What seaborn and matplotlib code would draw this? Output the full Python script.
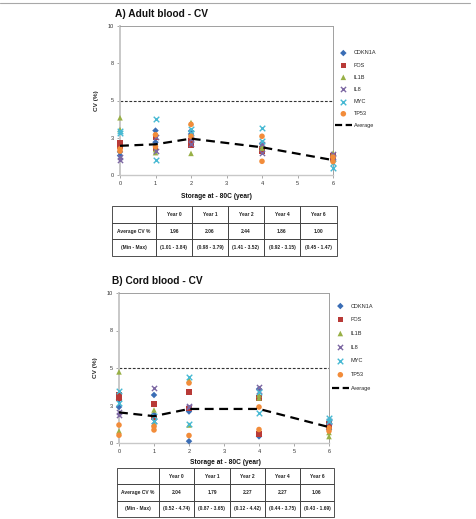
import numpy as np
import pandas as pd
import matplotlib
matplotlib.use("Agg")
import matplotlib.pyplot as plt
from matplotlib.lines import Line2D
import seaborn as sns

sns.set_theme(style="white")
plt.rcParams['font.family'] = ['Liberation Sans', 'DejaVu Sans']

# ---------------- data ----------------
YEARS = [0, 1, 2, 4, 6]
YEARS_REP = [0, 0, 1, 1, 2, 2, 4, 4, 6, 6]
GENES = ["CDKN1A", "FOS", "IL1B", "IL8", "MYC", "TP53"]

# Panel A: adult blood, CV (%) per gene (two samples per year)
A_CDKN1A = [1.55, 1.30, 2.98, 2.20, 2.95, 2.75, 2.10, 1.90, 1.30, 0.95]
A_FOS    = [2.15, 1.95, 2.50, 1.80, 2.00, 2.30, 1.60, 1.75, 1.10, 1.30]
A_IL1B   = [3.84, 3.05, 1.50, 1.70, 3.52, 1.45, 1.80, 2.00, 1.47, 1.35]
A_IL8    = [1.01, 1.20, 2.55, 1.60, 2.10, 2.40, 2.10, 1.50, 1.40, 1.20]
A_MYC    = [2.95, 2.80, 3.79, 0.98, 3.10, 2.80, 3.15, 2.30, 0.45, 0.80]
A_TP53   = [1.75, 1.60, 2.70, 1.90, 3.40, 2.60, 2.60, 0.92, 1.20, 0.90]
A_AVG = [1.96, 2.06, 2.44, 1.86, 1.00]
A_MIN = [1.01, 0.98, 1.41, 0.92, 0.45]
A_MAX = [3.84, 3.79, 3.52, 3.15, 1.47]

# Panel B: cord blood
B_CDKN1A = [2.40, 2.90, 3.20, 1.90, 2.10, 0.12, 3.60, 0.44, 1.20, 0.90]
B_FOS    = [3.20, 3.00, 2.60, 1.70, 3.40, 2.30, 3.00, 0.60, 1.30, 1.10]
B_IL1B   = [4.74, 0.80, 2.20, 1.30, 4.20, 1.20, 3.20, 3.00, 0.43, 0.70]
B_IL8    = [1.90, 2.10, 3.65, 1.50, 2.40, 2.50, 3.75, 3.50, 1.50, 1.40]
B_MYC    = [3.44, 2.70, 1.50, 1.80, 4.42, 1.30, 3.40, 2.00, 1.69, 1.50]
B_TP53   = [1.20, 0.52, 1.10, 0.87, 4.00, 0.50, 2.40, 0.90, 1.00, 0.80]
B_AVG = [2.04, 1.79, 2.27, 2.27, 1.06]
B_MIN = [0.52, 0.87, 0.12, 0.44, 0.43]
B_MAX = [4.74, 3.65, 4.42, 3.75, 1.69]

YTICKS = [0, 2.5, 5, 7.5, 10]
YTICK_LABELS = ["0", "3", "5", "8", "10"]
THRESHOLD = 5

COLORS = {"CDKN1A": "#3a6db5", "FOS": "#b83a37", "IL1B": "#98b046",
          "IL8": "#7d68a3", "MYC": "#47b9d3", "TP53": "#f28c3a"}
MARKERS = {"CDKN1A": "D", "FOS": "s", "IL1B": "^", "IL8": "x", "MYC": "x", "TP53": "o"}
SIZES = {"CDKN1A": 11, "FOS": 14, "IL1B": 16, "IL8": 14, "MYC": 16, "TP53": 16}

W, H = 476, 519
fig = plt.figure(figsize=(W / 100, H / 100), dpi=100)


def fx(px):
    return px / W


def fy(py):
    return 1 - py / H


AVG_DASH = (0, (4, 2.5))


def panel(ax_box, gene_vals, avg, title, title_xy, xlabel_xy, leg_xy, leg_space):
    left, top, right, bottom = ax_box
    ax = fig.add_axes([fx(left), fy(bottom), fx(right - left), (bottom - top) / H])
    for g, vals in zip(GENES, gene_vals):
        df = pd.DataFrame({"year": YEARS_REP, "cv": vals})
        m = MARKERS[g]
        kw = dict(color=COLORS[g], marker=m, s=SIZES[g], label=g, ax=ax, zorder=3,
                  clip_on=False)
        if m == "x":
            kw["linewidth"] = 1.0
        else:
            kw["edgecolor"] = "none"
        sns.scatterplot(data=df, x="year", y="cv", **kw)
    sns.lineplot(x=YEARS, y=avg, color="black", lw=1.6, linestyle=AVG_DASH,
                 label="Average", ax=ax, zorder=4)
    ax.axhline(THRESHOLD, color="#333333", lw=0.8, linestyle=(0, (2.5, 1.5)), zorder=2)
    ax.set_xlim(0, 6)
    ax.set_ylim(0, 10)
    ax.set_xticks(range(0, 7))
    ax.set_yticks(YTICKS)
    ax.set_yticklabels(YTICK_LABELS)
    ax.tick_params(axis="both", labelsize=4, length=2, width=0.6, color="#999999",
                   pad=2.5, labelcolor="#333333", direction="out")
    ax.tick_params(axis="x", bottom=True)
    ax.tick_params(axis="y", left=True)
    for s in ["top", "right"]:
        ax.spines[s].set_color("#a0a0a0")
        ax.spines[s].set_linewidth(0.7)
    ax.spines["left"].set_color("#c8c8c8")
    ax.spines["left"].set_linewidth(1.4)
    ax.spines["bottom"].set_color("#c8c8c8")
    ax.spines["bottom"].set_linewidth(1.0)
    ax.set_xlabel("")
    ax.set_ylabel("CV (%)", fontsize=4.6, fontweight="bold", labelpad=6)
    fig.text(fx(title_xy[0]), fy(title_xy[1]), title, fontsize=7.3, fontweight="bold",
             va="center", ha="left", color="#111111")
    fig.text(fx(xlabel_xy[0]), fy(xlabel_xy[1]), "Storage at - 80C (year)", fontsize=4.8,
             fontweight="bold", va="center", ha="center", color="#111111")
    h, l = ax.get_legend_handles_labels()
    # legend handle for the average line: two long dashes
    h[-1] = Line2D([], [], color="black", lw=1.6, linestyle=(0, (3.2, 1.6)))
    fs = 4
    fspx = fs * 100 / 72
    ax.legend(h, l, loc="upper left", bbox_to_anchor=(fx(leg_xy[0]), fy(leg_xy[1])),
              bbox_transform=fig.transFigure, frameon=False, fontsize=fs,
              handlelength=3.0, handletextpad=0.4, borderpad=0, borderaxespad=0,
              labelspacing=(leg_space - fspx) / fspx, markerscale=1.0)
    return ax


def table(box, avg, mins, maxs, col_px):
    left, top, right, bottom = box
    axt = fig.add_axes([fx(left), fy(bottom), fx(right - left), (bottom - top) / H])
    axt.axis("off")
    header = [""] + ["Year %d" % y for y in YEARS]
    row1 = ["Average CV %"] + ["%.2f" % v for v in avg]
    row2 = ["(Min - Max)"] + ["(%.2f - %.2f)" % (a, b) for a, b in zip(mins, maxs)]
    total = sum(col_px)
    tbl = axt.table(cellText=[header, row1, row2], cellLoc="center",
                    colWidths=[c / total for c in col_px], bbox=[0, 0, 1, 1])
    tbl.auto_set_font_size(False)
    tbl.set_fontsize(3.5)
    for (r, c), cell in tbl.get_celld().items():
        cell.set_edgecolor("#333333")
        cell.set_linewidth(0.6)
        cell.get_text().set_fontweight("bold")
        cell.get_text().set_color("#222222")
        cell.PAD = 0.02
    return axt


panel((120, 26, 333, 175),
      [A_CDKN1A, A_FOS, A_IL1B, A_IL8, A_MYC, A_TP53], A_AVG,
      "A) Adult blood - CV", (115, 14), (216, 197), (335, 50.5), 12.7)
table((112, 206, 337, 256), A_AVG, A_MIN, A_MAX, [44, 36, 36, 36, 36, 37])

panel((119, 293, 329, 443),
      [B_CDKN1A, B_FOS, B_IL1B, B_IL8, B_MYC, B_TP53], B_AVG,
      "B) Cord blood - CV", (112, 281), (225, 462), (332, 303.5), 14.3)
table((117, 468, 334, 517), B_AVG, B_MIN, B_MAX, [42, 35, 36, 35, 35, 34])

# thin frame line at the top of the figure
fig.add_artist(Line2D([0, fx(470)], [fy(3), fy(3)], transform=fig.transFigure,
                      color="#a8a8a8", lw=0.8))

fig.savefig("out.png", dpi=100)
